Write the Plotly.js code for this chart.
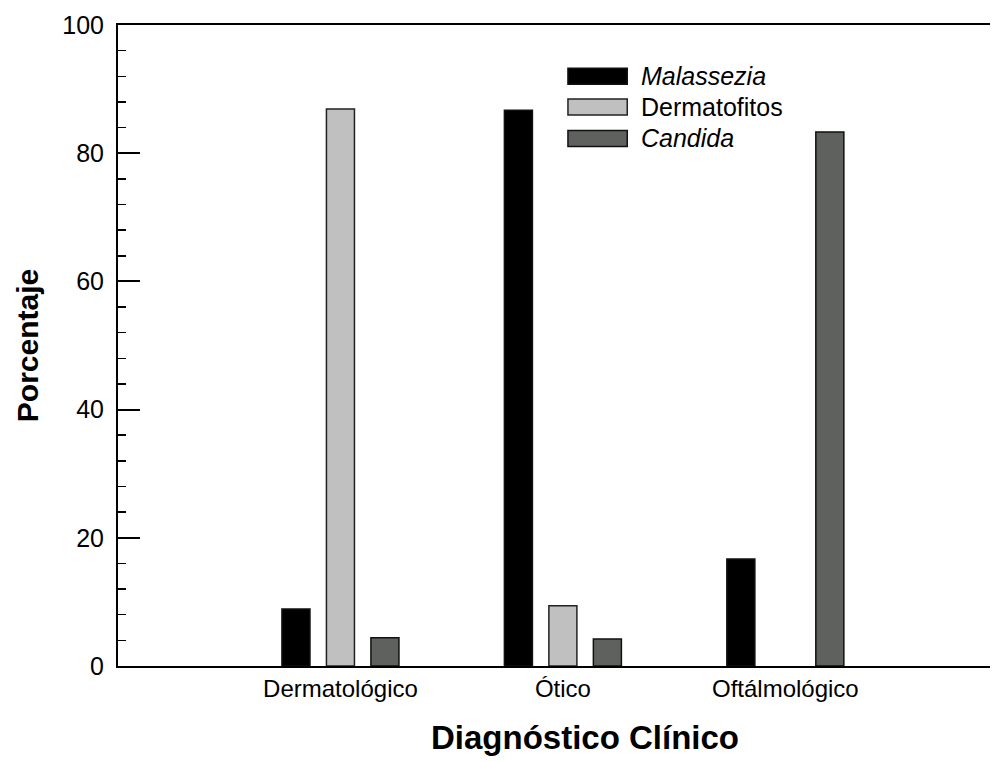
<!DOCTYPE html>
<html>
<head>
<meta charset="utf-8">
<script src="https://cdn.plot.ly/plotly-3.0.1.min.js"></script>
<style>html,body{margin:0;padding:0;background:#fff;}#chart{width:999px;height:761px;}</style>
</head>
<body>
<div id="chart"></div>
<script>
var categories = ["Dermatológico", "Ótico", "Oftálmológico"];
var seriesNames = ["Malassezia", "Dermatofitos", "Candida"];
var seriesLabels = ["<i>Malassezia</i>", "Dermatofitos", "<i>Candida</i>"];
var malassezia = [8.9, 86.7, 16.7];
var dermatofitos = [86.9, 9.4, 0];
var candida = [4.4, 4.2, 83.3];
var yTicks = [0, 20, 40, 60, 80, 100];
var xTitle = "Diagnóstico Clínico";
var yTitle = "Porcentaje";

var values = [malassezia, dermatofitos, candida];
var fills = ["#000000", "#c0c0c0", "#5f615f"];
var edges = ["#111111", "#222222", "#111111"];

var traces = values.map(function (v, i) {
  return {
    type: "bar",
    name: seriesNames[i],
    x: categories,
    y: v,
    marker: {
      color: fills[i],
      line: { color: edges[i], width: v.map(function (d) { return d === 0 ? 0 : 1.5; }) }
    },
    showlegend: false,
    hoverinfo: "x+y+name"
  };
});

var shapes = [], annotations = [];
var legY = [0.920, 0.872, 0.823];
var halfH = 0.0125;
for (var i = 0; i < seriesNames.length; i++) {
  shapes.push({
    type: "rect", xref: "paper", yref: "paper",
    x0: 0.516, x1: 0.584, y0: legY[i] - halfH, y1: legY[i] + halfH,
    fillcolor: fills[i], line: { color: edges[i], width: 1.5 }
  });
  annotations.push({
    xref: "paper", yref: "paper", x: 0.598, y: legY[i],
    xanchor: "left", yanchor: "middle", showarrow: false,
    text: seriesLabels[i],
    font: { family: "Liberation Sans, Arial, sans-serif", size: 25, color: "#000" }
  });
}
annotations.push({
  xref: "paper", yref: "paper", x: 0.536, y: -0.112,
  xanchor: "center", yanchor: "middle", showarrow: false,
  text: "<b>" + xTitle + "</b>",
  font: { family: "Liberation Sans, Arial, sans-serif", size: 33, color: "#000" }
});

var layout = {
  width: 999, height: 761,
  margin: { l: 118, r: 9, t: 25, b: 95 },
  paper_bgcolor: "#fff", plot_bgcolor: "#fff",
  font: { family: "Liberation Sans, Arial, sans-serif", color: "#000" },
  barmode: "group",
  bargap: 0.4,
  bargroupgap: 0.37,
  xaxis: {
    type: "category",
    range: [-1.0, 2.92],
    showline: true, linecolor: "#000", linewidth: 2,
    mirror: true,
    ticks: "", showgrid: false, zeroline: false,
    tickfont: { size: 24 }
  },
  yaxis: {
    range: [0, 100],
    tickvals: yTicks,
    ticktext: yTicks.map(String),
    showline: true, linecolor: "#000", linewidth: 2,
    ticks: "inside", ticklen: 22, tickwidth: 2, tickcolor: "#000",
    minor: { dtick: 4, ticks: "inside", ticklen: 8, tickwidth: 1.5, tickcolor: "#000" },
    showgrid: false, zeroline: false,
    tickfont: { size: 25 },
    ticklabelstandoff: 7,
    title: { text: "<b>" + yTitle + "</b>", font: { size: 30 }, standoff: 15 }
  },
  shapes: shapes,
  annotations: annotations
};

Plotly.newPlot("chart", traces, layout, { displayModeBar: false, staticPlot: true });
</script>
</body>
</html>
